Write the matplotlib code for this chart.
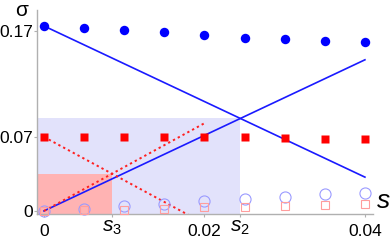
import numpy as np
import matplotlib
matplotlib.use("Agg")
import matplotlib.pyplot as plt
import matplotlib.transforms as mtransforms

plt.rcParams['font.family'] = ['Liberation Sans', 'DejaVu Sans']
plt.rcParams['mathtext.fontset'] = 'custom'
plt.rcParams['mathtext.rm'] = 'Liberation Sans'
plt.rcParams['mathtext.it'] = 'Liberation Sans:italic'

# data
s = [0, 0.005, 0.01, 0.015, 0.02, 0.025, 0.03, 0.035, 0.04]
sigma_big = [0.175, 0.173, 0.171, 0.169, 0.1665, 0.164, 0.163, 0.161, 0.160]
sigma_sq = [0.07, 0.07, 0.07, 0.07, 0.07, 0.0695, 0.069, 0.068, 0.068]
sigma_oc = [0.0, 0.002, 0.0047, 0.0066, 0.0095, 0.0114, 0.013, 0.016, 0.017]
sigma_os = [0.0, 0.001, 0.001, 0.002, 0.004, 0.004, 0.005, 0.006, 0.007]

# straight lines (x0, y0, x1, y1)
blue_down = (0, 0.175, 0.04, 0.032)
blue_up = (0, 0.0, 0.04, 0.143)
red_down = (0, 0.07, 0.02, -0.012)
red_up = (0, 0.0, 0.02, 0.083)


def cross(a, b):
    ka = (a[3] - a[1]) / (a[2] - a[0])
    kb = (b[3] - b[1]) / (b[2] - b[0])
    x = (b[1] - a[1]) / (ka - kb)
    return x, a[1] + ka * x


s2, y2 = cross(blue_down, blue_up)
s3, y3 = cross(red_down, red_up)

fig = plt.figure(figsize=(3.92, 2.41), dpi=100)
ax = fig.add_axes([0.0944, 0.112, 0.857, 0.846])
xmin, xmax = -0.00087, 0.041
ymin, ymax = -0.0029, 0.190
ax.set_xlim(xmin, xmax)
ax.set_ylim(ymin, ymax)

ax.fill_between([xmin, s2], ymin, y2, color='#e2e2fb', lw=0, zorder=0)
ax.fill_between([xmin, s3], ymin, y3, color='#ffb3b3', lw=0, zorder=0)

for ln in (blue_down, blue_up):
    ax.plot([ln[0], ln[2]], [ln[1], ln[3]], color='#1a1aff', lw=1.2, zorder=3)
for ln in (red_down, red_up):
    ax.plot([ln[0], ln[2]], [ln[1], ln[3]], color='#ff2020', lw=1.4,
            ls=(0, (1.2, 1.6)), zorder=3)

ax.plot(s, sigma_big, 'o', color='#0000ff', ms=6.8, mec='none', zorder=4, clip_on=False)
ax.plot(s, sigma_sq, 's', color='#ff0000', ms=5.6, mec='none', zorder=4)
ax.plot(s, sigma_oc, 'o', mfc='none', mec='#9a9aff', ms=8, mew=0.8, zorder=4, clip_on=False)
ax.plot(s, sigma_os, 's', mfc='none', mec='#ff9d9d', ms=5.5, mew=0.8, zorder=4, clip_on=False)

for sp in ('top', 'right'):
    ax.spines[sp].set_visible(False)
for sp in ('left', 'bottom'):
    ax.spines[sp].set_color('#b0b0b0')
    ax.spines[sp].set_linewidth(1.0)

ax.set_xticks([0, s3, 0.02, s2, 0.04])
ax.set_xticklabels(['0', '$s_3$', '0.02', '$s_2$', '0.04'])
ax.set_yticks([0, 0.07, 0.17])
ax.set_yticklabels(['0', '0.07', '0.17'])
ax.tick_params(axis='both', colors='#b0b0b0', labelcolor='black', labelsize=12.5,
               length=2, width=0.8)
ax.tick_params(axis='x', pad=5)
ax.tick_params(axis='y', pad=1)
shift = mtransforms.ScaledTranslation(0, 4 / 72, fig.dpi_scale_trans)
for i in (1, 3):
    lab = ax.get_xticklabels()[i]
    lab.set_fontsize(15)
    lab.set_transform(lab.get_transform() + shift)

fig.text(0.056, 0.955, 'σ', fontsize=15, ha='center', va='center')
fig.text(0.978, 0.165, '$s$', fontsize=19, ha='center', va='center')

fig.savefig('out.png', dpi=100)
